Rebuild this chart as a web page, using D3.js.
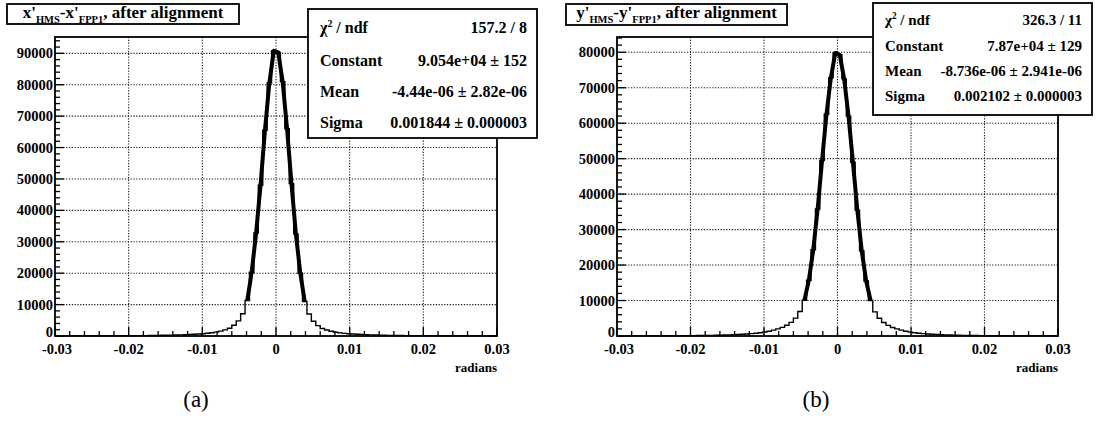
<!DOCTYPE html>
<html><head><meta charset="utf-8">
<script src="https://cdn.jsdelivr.net/npm/d3@7"></script>
<style>
body{margin:0;background:#fff}
text{font-family:"Liberation Serif","Times New Roman",serif}
</style>
</head><body>
<svg id="c" width="1107" height="423" font-family="Liberation Serif, Times New Roman, serif"></svg>
<script>
// ---------------- data ----------------
const binRange = [-0.03, 0.03];
const nBins = 100;
const countsA = [
  22, 24, 26, 28, 30, 32, 35, 38, 41, 44,
  48, 52, 57, 63, 70, 77, 85, 94, 105, 118,
  132, 148, 168, 190, 215, 245, 280, 320, 365, 415,
  480, 550, 640, 740, 860, 1020, 1230, 1550, 1950, 2450,
  3400, 4800, 7100, 11300, 20300, 32800, 48000, 65500, 80600, 90800,
  90300, 81000, 66000, 48500, 32500, 20000, 11000, 7000, 4700, 3300,
  2400, 1900, 1500, 1200, 1000, 850, 730, 630, 540, 470,
  410, 360, 315, 275, 240, 210, 185, 165, 145, 130,
  115, 103, 92, 83, 75, 68, 62, 56, 51, 47,
  43, 40, 37, 34, 31, 29, 27, 25, 23, 22
];
const countsB = [
  26, 28, 30, 32, 34, 37, 40, 43, 47, 51,
  56, 61, 67, 74, 82, 91, 101, 114, 128, 144,
  162, 182, 207, 238, 272, 312, 358, 415, 485, 565,
  665, 790, 930, 1110, 1360, 1660, 2020, 2430, 3050, 3850,
  5050, 6900, 10100, 15700, 24300, 35800, 49500, 62500, 72800, 79800,
  79300, 72500, 62000, 49000, 35500, 24000, 15500, 10000, 6800, 5000,
  3800, 3000, 2400, 2000, 1650, 1350, 1100, 920, 780, 660,
  560, 480, 410, 355, 310, 270, 235, 205, 180, 160,
  142, 126, 112, 100, 90, 81, 73, 66, 60, 55,
  50, 46, 42, 39, 36, 33, 31, 29, 27, 25
];
const xTickValues = [-0.03, -0.02, -0.01, 0, 0.01, 0.02, 0.03];
const xTickLabels = ["-0.03", "-0.02", "-0.01", "0", "0.01", "0.02", "0.03"];
const yTicksA = [0, 10000, 20000, 30000, 40000, 50000, 60000, 70000, 80000, 90000];
const yTicksB = [0, 10000, 20000, 30000, 40000, 50000, 60000, 70000, 80000];
const yMaxA = 95200;
const yMaxB = 84300;
const fitRangeA = [-0.004, 0.004];
const fitRangeB = [-0.0048, 0.0048];
const titleA = ["x'", "HMS", "-x'", "FPP1", ", after alignment"];
const titleB = ["y'", "HMS", "-y'", "FPP1", ", after alignment"];
const statsA = [["/ ndf", "157.2 / 8"], ["Constant", "9.054e+04 \u00b1 152"], ["Mean", "-4.44e-06 \u00b1 2.82e-06"], ["Sigma", "0.001844 \u00b1 0.000003"]];
const statsB = [["/ ndf", "326.3 / 11"], ["Constant", "7.87e+04 \u00b1 129"], ["Mean", "-8.736e-06 \u00b1 2.941e-06"], ["Sigma", "0.002102 \u00b1 0.000003"]];
const captions = ["(a)", "(b)"];
const xAxisTitle = "radians";

// ---------------- layout ----------------
const FONT = "Liberation Serif, Times New Roman, serif";
const panels = [
  {counts: countsA, yTicks: yTicksA, yMax: yMaxA, fit: fitRangeA, title: titleA, stats: statsA, caption: captions[0],
   frame: {x0: 55, x1: 497, y0: 37, y1: 336},
   tbox: {x: 7, y: 4, w: 232, h: 20},
   sbox: {x: 308, y: 9, w: 229, h: 129, rows: [33, 66, 97, 128], fs: 16},
   capX: 196},
  {counts: countsB, yTicks: yTicksB, yMax: yMaxB, fit: fitRangeB, title: titleB, stats: statsB, caption: captions[1],
   frame: {x0: 617, x1: 1058, y0: 37, y1: 336},
   tbox: {x: 566, y: 4, w: 221, h: 21},
   sbox: {x: 873, y: 3, w: 219, h: 112, rows: [25, 51, 76, 101], fs: 15},
   capX: 816}
];

const svg = d3.select("#c");
svg.append("rect").attr("width", 1107).attr("height", 423).attr("fill", "#fff");

panels.forEach(p => {
  const f = p.frame;
  const g = svg.append("g").attr("font-family", FONT);
  const x = d3.scaleLinear().domain(binRange).range([f.x0, f.x1]);
  const y = d3.scaleLinear().domain([0, p.yMax]).range([f.y1, f.y0]);
  const bw = (binRange[1] - binRange[0]) / nBins;

  // grid
  const gx = g.append("g");
  xTickValues.slice(1, -1).forEach(v => {
    gx.append("line").attr("x1", x(v)).attr("x2", x(v)).attr("y1", f.y0).attr("y2", f.y1)
      .attr("stroke", "#111").attr("stroke-width", 1.1).attr("stroke-dasharray", "1.2,1.6");
  });
  p.yTicks.slice(1).forEach(v => {
    gx.append("line").attr("x1", f.x0).attr("x2", f.x1).attr("y1", y(v)).attr("y2", y(v))
      .attr("stroke", "#111").attr("stroke-width", 1.1).attr("stroke-dasharray", "1.2,1.6");
  });

  // minor/major ticks (inside)
  const xMinor = d3.range(0, 31).map(i => binRange[0] + i * 0.002);
  xMinor.forEach((v, i) => {
    const len = (i % 5 === 0) ? 9 : 5;
    g.append("line").attr("x1", x(v)).attr("x2", x(v)).attr("y1", f.y1).attr("y2", f.y1 - len)
      .attr("stroke", "#000").attr("stroke-width", 1.3);
  });
  d3.range(0, p.yMax, 2000).forEach((v, i) => {
    const len = (i % 5 === 0) ? 9 : 5;
    g.append("line").attr("x1", f.x0).attr("x2", f.x0 + len).attr("y1", y(v)).attr("y2", y(v))
      .attr("stroke", "#000").attr("stroke-width", 1.3);
  });

  // histogram steps
  const path = d3.path();
  path.moveTo(x(binRange[0]), y(0));
  p.counts.forEach((c, i) => {
    const a = binRange[0] + i * bw;
    path.lineTo(x(a), y(c));
    path.lineTo(x(a + bw), y(c));
  });
  path.lineTo(x(binRange[1]), y(0));
  g.append("path").attr("d", path.toString()).attr("fill", "none").attr("stroke", "#000").attr("stroke-width", 1.4);

  // fit curve (through bin centres in fit range)
  const pts = p.counts.map((c, i) => [binRange[0] + (i + 0.5) * bw, c])
    .filter(d => d[0] >= p.fit[0] && d[0] <= p.fit[1]);
  g.append("path").attr("d", d3.line().x(d => x(d[0])).y(d => y(d[1]))(pts))
    .attr("fill", "none").attr("stroke", "#000").attr("stroke-width", 4).attr("stroke-linejoin", "round");

  // frame
  g.append("rect").attr("x", f.x0).attr("y", f.y0).attr("width", f.x1 - f.x0).attr("height", f.y1 - f.y0)
    .attr("fill", "none").attr("stroke", "#000").attr("stroke-width", 1.8);

  // x labels
  xTickValues.forEach((v, i) => {
    g.append("text").attr("x", x(v) + (i === 0 ? 2 : 0)).attr("y", f.y1 + 18).attr("text-anchor", "middle")
      .attr("font-size", 14.5).attr("font-weight", "bold").text(xTickLabels[i]);
  });
  g.append("text").attr("x", f.x1).attr("y", f.y1 + 36).attr("text-anchor", "end")
    .attr("font-size", 13).attr("font-weight", "bold").text(xAxisTitle);

  // y labels
  p.yTicks.forEach(v => {
    g.append("text").attr("x", f.x0 - 2).attr("y", y(v) + (v === 0 ? 1 : 5)).attr("text-anchor", "end")
      .attr("font-size", 14.5).attr("font-weight", "bold").text(d3.format("d")(v));
  });

  // title box
  const tb = p.tbox;
  g.append("rect").attr("x", tb.x).attr("y", tb.y).attr("width", tb.w).attr("height", tb.h)
    .attr("fill", "#fff").attr("stroke", "#000").attr("stroke-width", 1.8);
  const tt = g.append("text").attr("x", tb.x + tb.w / 2).attr("y", tb.y + 14).attr("text-anchor", "middle")
    .attr("font-size", 17).attr("font-weight", "bold");
  p.title.forEach((s, i) => {
    const sub = (i === 1 || i === 3);
    tt.append("tspan").attr("font-size", sub ? 10.5 : 17)
      .attr("dy", sub ? 5 : (i === 0 ? 0 : -5)).text(s);
  });

  // stats box
  const sb = p.sbox;
  g.append("rect").attr("x", sb.x).attr("y", sb.y).attr("width", sb.w).attr("height", sb.h)
    .attr("fill", "#fff").attr("stroke", "#000").attr("stroke-width", 1.8);
  p.stats.forEach((r, i) => {
    const yy = sb.rows[i];
    const lt = g.append("text").attr("x", sb.x + 12).attr("y", yy).attr("font-size", sb.fs).attr("font-weight", "bold");
    if (i === 0) {
      lt.append("tspan").text("\u03c7");
      lt.append("tspan").attr("font-size", sb.fs * 0.62).attr("dy", -6).text("2");
      lt.append("tspan").attr("dy", 6).text(" " + r[0]);
    } else {
      lt.text(r[0]);
    }
    g.append("text").attr("x", sb.x + sb.w - 10).attr("y", yy).attr("text-anchor", "end")
      .attr("font-size", sb.fs).attr("font-weight", "bold").text(r[1]);
  });

  // caption
  svg.append("text").attr("x", p.capX).attr("y", 407).attr("text-anchor", "middle")
    .attr("font-family", FONT).attr("font-size", 23).text(p.caption);
});
</script>
</body></html>
